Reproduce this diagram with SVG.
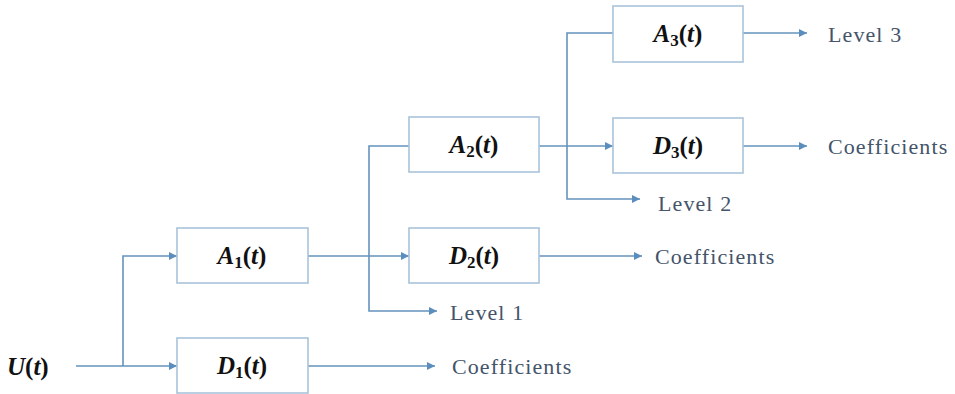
<svg xmlns="http://www.w3.org/2000/svg" width="955" height="394" viewBox="0 0 955 394">
<style>
.box{fill:#fff;stroke:#a9c3da;stroke-width:1.6}
.ln{fill:none;stroke:#6593bd;stroke-width:1.6}
.lbl{font-family:"Liberation Serif","Times New Roman",serif;font-size:22px;fill:#44546a;letter-spacing:1.1px}
.m{font-family:"Liberation Serif","Times New Roman",serif;font-size:25px;font-weight:bold;fill:#111}
.i{font-style:italic}
.s{font-size:17px}
</style>
<defs>
<marker id="ah" viewBox="0 0 10 10" refX="10" refY="5" markerWidth="10" markerHeight="8" markerUnits="userSpaceOnUse" orient="auto">
<path d="M0,0 L10,5 L0,10 z" fill="#5b8dbd"/>
</marker>
</defs>
<rect width="955" height="394" fill="#fff"/>
<g id="connectors">
<path class="ln" d="M76,366 H177" marker-end="url(#ah)"/>
<path class="ln" d="M123,366 V256 H177" marker-end="url(#ah)"/>
<path class="ln" d="M308,256 H409" marker-end="url(#ah)"/>
<path class="ln" d="M409,146 H369 V311 H437" marker-end="url(#ah)"/>
<path class="ln" d="M539,146 H613" marker-end="url(#ah)"/>
<path class="ln" d="M613,33 H567 V199 H640" marker-end="url(#ah)"/>
<path class="ln" d="M743,33 H807" marker-end="url(#ah)"/>
<path class="ln" d="M743,146 H807" marker-end="url(#ah)"/>
<path class="ln" d="M539,256 H642" marker-end="url(#ah)"/>
<path class="ln" d="M308,366 H435" marker-end="url(#ah)"/>
</g>
<g id="U">
<text class="m" x="7" y="375"><tspan class="i">U</tspan>(<tspan class="i">t</tspan>)</text>
</g>
<g id="A1">
<rect class="box" x="177" y="228" width="131" height="55"/>
<text class="m" x="242" y="264" text-anchor="middle"><tspan class="i">A</tspan><tspan class="s" dy="4">1</tspan><tspan dy="-4">(</tspan><tspan class="i">t</tspan>)</text>
</g>
<g id="D1">
<rect class="box" x="177" y="338" width="131" height="55"/>
<text class="m" x="242" y="374" text-anchor="middle"><tspan class="i">D</tspan><tspan class="s" dy="4">1</tspan><tspan dy="-4">(</tspan><tspan class="i">t</tspan>)</text>
</g>
<g id="A2">
<rect class="box" x="409" y="117" width="130" height="55"/>
<text class="m" x="474" y="153" text-anchor="middle"><tspan class="i">A</tspan><tspan class="s" dy="4">2</tspan><tspan dy="-4">(</tspan><tspan class="i">t</tspan>)</text>
</g>
<g id="D2">
<rect class="box" x="409" y="228" width="130" height="55"/>
<text class="m" x="474" y="264" text-anchor="middle"><tspan class="i">D</tspan><tspan class="s" dy="4">2</tspan><tspan dy="-4">(</tspan><tspan class="i">t</tspan>)</text>
</g>
<g id="A3">
<rect class="box" x="613" y="6" width="130" height="56"/>
<text class="m" x="678" y="42" text-anchor="middle"><tspan class="i">A</tspan><tspan class="s" dy="4">3</tspan><tspan dy="-4">(</tspan><tspan class="i">t</tspan>)</text>
</g>
<g id="D3">
<rect class="box" x="613" y="118" width="130" height="55"/>
<text class="m" x="678" y="154" text-anchor="middle"><tspan class="i">D</tspan><tspan class="s" dy="4">3</tspan><tspan dy="-4">(</tspan><tspan class="i">t</tspan>)</text>
</g>
<g id="labels">
<text class="lbl" x="828" y="42">Level 3</text>
<text class="lbl" x="828" y="154">Coefficients</text>
<text class="lbl" x="658" y="211">Level 2</text>
<text class="lbl" x="655" y="264">Coefficients</text>
<text class="lbl" x="450" y="320">Level 1</text>
<text class="lbl" x="452" y="374">Coefficients</text>
</g>
</svg>
